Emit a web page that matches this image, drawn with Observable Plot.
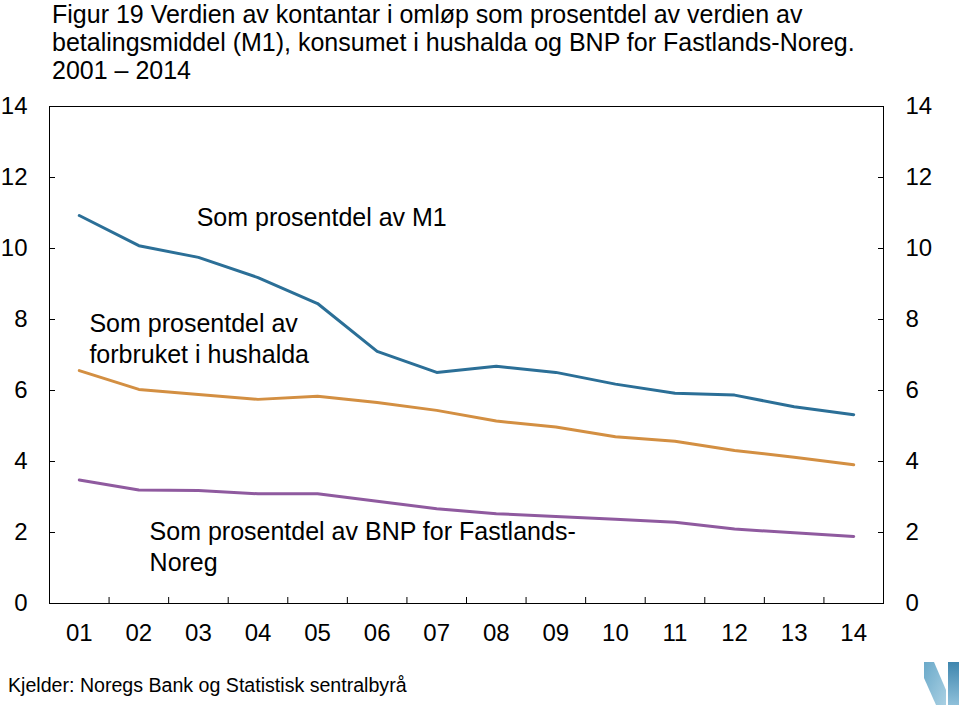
<!DOCTYPE html>
<html>
<head>
<meta charset="utf-8">
<script src="https://cdn.jsdelivr.net/npm/d3@7"></script>
<script src="https://cdn.jsdelivr.net/npm/@observablehq/plot@0.6"></script>
<style>
  html, body { margin: 0; padding: 0; background: #fff; }
  body { width: 960px; height: 705px; position: relative; overflow: hidden; font-family: "Liberation Sans", Arial, sans-serif; }
  #title { position: absolute; left: 52px; top: 0px; font-size: 25px; color: #000; }
  #title div { line-height: 28px; height: 28px; white-space: nowrap; }
  #chart { position: absolute; left: 0; top: 88px; }
  #caption { position: absolute; left: 8px; top: 674px; font-size: 19.6px; color: #000; }
  #logo { position: absolute; left: 924px; top: 662px; }
</style>
</head>
<body>
<div id="title"><div>Figur 19 Verdien av kontantar i omløp som prosentdel av verdien av</div><div>betalingsmiddel (M1), konsumet i hushalda og BNP for Fastlands-Noreg.</div><div>2001 – 2014</div></div>
<div id="chart"></div>
<div id="caption">Kjelder: Noregs Bank og Statistisk sentralbyrå</div>
<svg id="logo" width="36" height="43" viewBox="0 0 36 43">
  <defs>
    <linearGradient id="g1" x1="0" y1="0" x2="1" y2="1">
      <stop offset="0" stop-color="#6aa9c9"/><stop offset="1" stop-color="#a9d0e3"/>
    </linearGradient>
    <linearGradient id="g2" x1="0" y1="0" x2="0" y2="1">
      <stop offset="0" stop-color="#3f86ae"/><stop offset="1" stop-color="#8fc0da"/>
    </linearGradient>
  </defs>
  <polygon points="0,0 10,0 22,28 22,43 12,43 0,16" fill="url(#g1)"/>
  <rect x="24" y="0" width="11" height="43" fill="url(#g2)"/>
</svg>
<script>
const years = [1,2,3,4,5,6,7,8,9,10,11,12,13,14];
const m1 =      [10.93,10.08,9.75,9.18,8.45,7.10,6.51,6.68,6.51,6.18,5.92,5.87,5.54,5.32];
const konsum =  [6.56,6.03,5.89,5.75,5.84,5.66,5.44,5.14,4.97,4.70,4.57,4.31,4.12,3.91];
const bnp =     [3.48,3.20,3.18,3.09,3.09,2.88,2.67,2.53,2.45,2.37,2.29,2.10,1.99,1.89];
const yTicks = [0,2,4,6,8,10,12,14];
const xTickLabels = ["01","02","03","04","05","06","07","08","09","10","11","12","13","14"];
const labelTexts = ["Som prosentdel av M1", "Som prosentdel av\nforbruket i hushalda", "Som prosentdel av BNP for Fastlands-\nNoreg"];
const labelX = [2.97, 1.17, 2.18];
const labelY = [10.9, 7.49, 1.62];
const colors = ["#2b6f97", "#d38f42", "#8f5a9f"];

const series = [
  {name: "M1", values: m1},
  {name: "Konsum", values: konsum},
  {name: "BNP", values: bnp}
];
const data = series.flatMap(s => s.values.map((v, i) => ({series: s.name, year: years[i], value: v})));
const labels = labelTexts.map((t, i) => ({text: t, x: labelX[i], y: labelY[i]}));
const boundaries = years.slice(0, -1).map(y => y + 0.5);
const innerTicks = yTicks.filter(t => t > 0 && t < 14);
const blank = () => "";

const chart = Plot.plot({
  width: 960,
  height: 560,
  marginLeft: 49,
  marginRight: 77,
  marginTop: 18,
  marginBottom: 45,
  style: {fontFamily: "'Liberation Sans', Arial, sans-serif", fontSize: "24px", color: "#000", background: "#fff"},
  x: {domain: [0.5, 14.5], axis: null},
  y: {domain: [0, 14], axis: null},
  color: {domain: series.map(s => s.name), range: colors},
  marks: [
    Plot.frame({stroke: "#000", strokeWidth: 1}),
    Plot.axisY({anchor: "left", ticks: yTicks, tickSize: 0, tickPadding: 22, label: null, fontSize: 24}),
    Plot.axisY({anchor: "right", ticks: yTicks, tickSize: 0, tickPadding: 22, label: null, fontSize: 24}),
    Plot.axisY({anchor: "left", ticks: innerTicks, tickSize: 6, dx: 6, tickFormat: blank, label: null, stroke: "#000"}),
    Plot.axisY({anchor: "right", ticks: innerTicks, tickSize: 6, dx: -6, tickFormat: blank, label: null, stroke: "#000"}),
    Plot.axisX({anchor: "bottom", ticks: boundaries, tickSize: 6, dy: -6, tickFormat: blank, label: null, stroke: "#000"}),
    Plot.axisX({anchor: "bottom", ticks: years, tickFormat: d => xTickLabels[years.indexOf(d)], tickSize: 0, tickPadding: 20, label: null, fontSize: 24}),
    Plot.line(data, {x: "year", y: "value", z: "series", stroke: "series", strokeWidth: 3, strokeLinejoin: "round"}),
    Plot.text(labels, {x: "x", y: "y", text: "text", textAnchor: "start", lineAnchor: "middle", lineHeight: 1.24, fontSize: 25, fill: "#000"})
  ]
});
document.getElementById("chart").appendChild(chart);
</script>
</body>
</html>
